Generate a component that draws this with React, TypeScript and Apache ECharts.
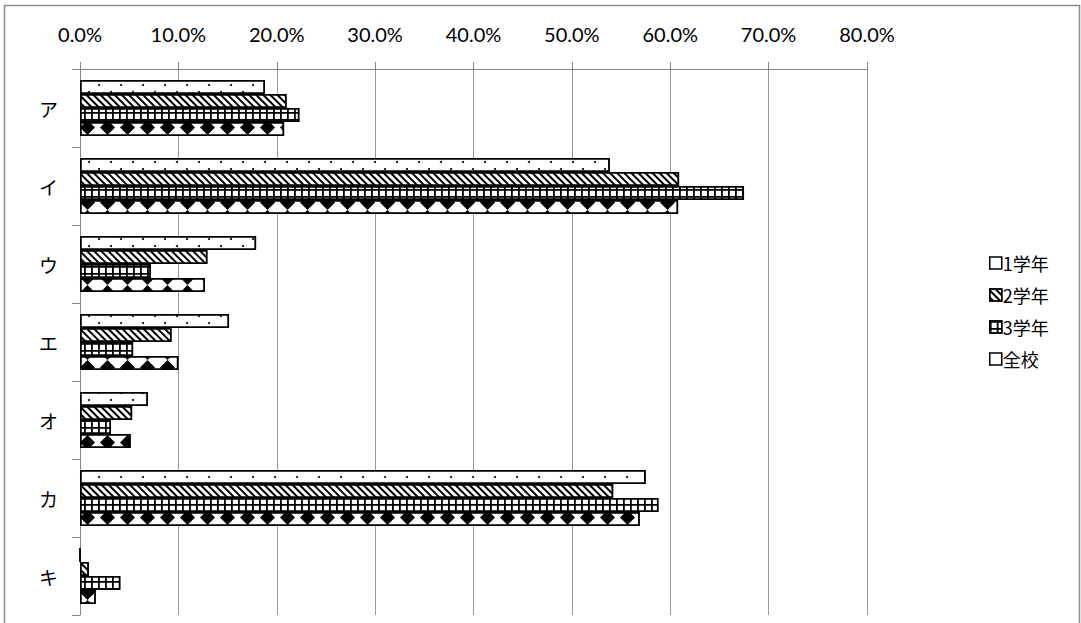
import React, { useEffect, useRef } from "react";
import * as echarts from "echarts";

const categories = ["ア", "イ", "ウ", "エ", "オ", "カ", "キ"];
const seriesNames = ["1学年", "2学年", "3学年", "全校"];
const grade1 = [18.8, 53.85, 17.9, 15.15, 6.9, 57.5, 0];
const grade2 = [21.0, 60.9, 12.95, 9.3, 5.3, 54.2, 0.9];
const grade3 = [22.3, 67.5, 7.2, 5.4, 3.15, 58.8, 4.1];
const school = [20.75, 60.8, 12.7, 10.0, 5.15, 56.9, 1.6];
const xTicks = [0, 10, 20, 30, 40, 50, 60, 70, 80];

const FONT = 'Lato, "Noto Sans CJK JP", sans-serif';
const CJK = '"Noto Sans CJK JP", sans-serif';

export default function App() {
  const ref = useRef<HTMLDivElement>(null);
  useEffect(() => {
    if (!ref.current) return;
    const chart = echarts.init(ref.current, null, { renderer: "svg" });
    const decals: any[] = [
      {
        symbol: "circle",
        symbolSize: 1,
        color: "#000",
        dashArrayX: [
          [2, 19.6],
          [0, 9.8, 2, 9.8],
        ],
        dashArrayY: [2, 5],
      },
      {
        symbol: "rect",
        symbolSize: 1,
        color: "#000",
        dashArrayX: [1, 0],
        dashArrayY: [2, 3],
        rotation: Math.PI / 4,
      },
      {
        symbol: "path://M0,0H7V1.8H1.8V7H0Z",
        symbolSize: 1,
        symbolKeepAspect: false,
        color: "#000",
        dashArrayX: [7, 0],
        dashArrayY: [7, 0],
      },
      {
        symbol: "diamond",
        symbolSize: 1,
        color: "#000",
        dashArrayX: [15, 4.6],
        dashArrayY: [15, 0],
      },
    ];
    const data = [grade1, grade2, grade3, school];
    const legendDecal = ["none", decals[1], decals[2], "none"];
    chart.setOption({
      animation: false,
      graphic: [
        {
          type: "rect",
          shape: { x: 4.5, y: 5.5, width: 1075, height: 640 },
          style: { fill: "none", stroke: "#8c8c8c", lineWidth: 1.5 },
          silent: true,
          z: -10,
        },
      ],
      legend: {
        orient: "vertical",
        left: 984,
        top: 249,
        itemWidth: 12,
        itemHeight: 12,
        itemGap: 14,
        icon: "rect",
        textStyle: { fontFamily: CJK, fontSize: 18, color: "#000", padding: [0, 0, 0, -4] },
        data: seriesNames.map((name, i) => ({
          name,
          itemStyle: { color: "#fff", borderColor: "#000", borderWidth: 1.5, decal: legendDecal[i] },
        })),
      },
      grid: { left: 80, top: 69, right: 214, bottom: 8, containLabel: false },
      xAxis: {
        type: "value",
        position: "top",
        min: 0,
        max: 80,
        interval: 10,
        axisLine: { show: true, lineStyle: { color: "#888", width: 1 } },
        axisTick: { show: true, length: 7, lineStyle: { color: "#888" } },
        axisLabel: {
          margin: 25,
          fontFamily: FONT,
          fontSize: 20,
          color: "#000",
          formatter: (v: number) => (xTicks.includes(v) ? v.toFixed(1) + "%" : ""),
        },
        splitLine: { show: true, lineStyle: { color: "#999", width: 1 } },
      },
      yAxis: {
        type: "category",
        inverse: true,
        data: categories,
        axisLine: { show: true, lineStyle: { color: "#888", width: 1 } },
        axisTick: { show: true, length: 8, lineStyle: { color: "#888" } },
        axisLabel: { margin: 22, fontFamily: CJK, fontSize: 19, color: "#000" },
      },
      series: seriesNames.map((name, i) => ({
        name,
        type: "bar",
        data: data[i],
        barGap: "0%",
        barCategoryGap: "28%",
        itemStyle: {
          color: "#fff",
          borderColor: "#000",
          borderWidth: 1.5,
          decal: decals[i],
        },
      })),
    });
    return () => chart.dispose();
  }, []);
  return (
    <div
      ref={ref}
      style={{ position: "fixed", left: 0, top: 0, width: 1081, height: 623, background: "#fff" }}
    />
  );
}
